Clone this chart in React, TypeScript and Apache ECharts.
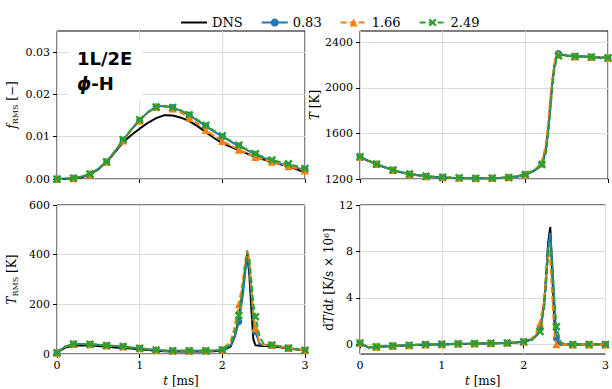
import React, { useEffect, useRef } from 'react';
import * as echarts from 'echarts';

// time grid [ms]
const tGrid = [0, 0.1, 0.2, 0.3, 0.4, 0.5, 0.6, 0.7, 0.8, 0.9, 1.0, 1.1, 1.2, 1.3, 1.4, 1.5, 1.6, 1.7, 1.8, 1.9, 2.0, 2.1, 2.15, 2.2, 2.25, 2.275, 2.3, 2.325, 2.35, 2.375, 2.4, 2.45, 2.5, 2.6, 2.7, 2.8, 2.9, 3.0];

// f_RMS [-]
const fRmsDNS = [0, 0, 0.0001, 0.0004, 0.0011, 0.0023, 0.004, 0.0063, 0.0087, 0.0104, 0.0119, 0.0133, 0.0144, 0.0151, 0.015, 0.0145, 0.0137, 0.0125, 0.0111, 0.0097, 0.0085, 0.0076, 0.0072, 0.0068, 0.0064, 0.0062, 0.006, 0.0058, 0.0056, 0.0054, 0.0052, 0.0049, 0.0046, 0.004, 0.0035, 0.003, 0.0023, 0.0015];
const fRms083 = [0, 0.0001, 0.0002, 0.0006, 0.0012, 0.0024, 0.0041, 0.0065, 0.0092, 0.0117, 0.0139, 0.0158, 0.0171, 0.0173, 0.0169, 0.0161, 0.0151, 0.0138, 0.0125, 0.0112, 0.01, 0.0089, 0.0083, 0.0078, 0.0073, 0.0071, 0.0068, 0.0066, 0.0063, 0.0061, 0.0058, 0.0054, 0.005, 0.0042, 0.0036, 0.0031, 0.0026, 0.0022];
const fRms166 = [0, 0.0001, 0.0002, 0.0006, 0.0012, 0.0024, 0.0041, 0.0065, 0.0091, 0.0116, 0.0138, 0.0157, 0.017, 0.0172, 0.0167, 0.0157, 0.0145, 0.0131, 0.0116, 0.0102, 0.009, 0.0079, 0.0074, 0.0069, 0.0065, 0.0063, 0.006, 0.0058, 0.0056, 0.0054, 0.0052, 0.0049, 0.0046, 0.0041, 0.0035, 0.003, 0.0025, 0.002];
const fRms249 = [0, 0.0001, 0.0002, 0.0006, 0.0012, 0.0024, 0.0041, 0.0066, 0.0093, 0.0118, 0.014, 0.0158, 0.017, 0.0172, 0.0169, 0.0162, 0.0152, 0.014, 0.0127, 0.0114, 0.0102, 0.009, 0.0085, 0.008, 0.0075, 0.0072, 0.007, 0.0067, 0.0065, 0.0062, 0.006, 0.0056, 0.0052, 0.0045, 0.004, 0.0036, 0.003, 0.0025];

// T [K]
const tempDNS = [1395, 1360, 1330, 1302, 1278, 1258, 1243, 1232, 1224, 1218, 1214, 1211, 1209, 1207, 1206, 1206, 1207, 1209, 1213, 1222, 1238, 1270, 1295, 1330, 1460, 1620, 1830, 2030, 2180, 2270, 2300, 2292, 2285, 2278, 2275, 2272, 2268, 2265];
const temp083 = [1395, 1361, 1331, 1303, 1279, 1259, 1244, 1232, 1224, 1218, 1214, 1211, 1209, 1207, 1206, 1206, 1207, 1209, 1213, 1222, 1239, 1272, 1298, 1333, 1470, 1630, 1840, 2040, 2190, 2275, 2302, 2292, 2285, 2278, 2275, 2272, 2268, 2265];
const temp166 = [1395, 1361, 1331, 1303, 1279, 1259, 1244, 1233, 1225, 1219, 1215, 1212, 1210, 1208, 1207, 1207, 1208, 1210, 1215, 1224, 1242, 1278, 1308, 1345, 1510, 1690, 1890, 2075, 2205, 2275, 2292, 2288, 2283, 2277, 2274, 2271, 2267, 2264];
const temp249 = [1395, 1361, 1331, 1303, 1279, 1259, 1244, 1233, 1225, 1219, 1215, 1212, 1210, 1208, 1207, 1207, 1208, 1210, 1214, 1223, 1240, 1272, 1296, 1328, 1430, 1580, 1780, 1990, 2150, 2250, 2282, 2285, 2282, 2277, 2274, 2271, 2267, 2264];

// T_RMS [K]
const tRmsDNS = [5, 26, 33, 35, 34, 32, 29, 26, 24, 22, 19, 16, 13, 11, 10, 10, 10, 10, 10, 11, 14, 30, 70, 140, 265, 340, 400, 330, 185, 60, 35, 33, 32, 31, 27, 22, 18, 14];
const tRms083 = [5, 30, 40, 40, 39, 37, 34, 32, 30, 26, 23, 19, 16, 14, 13, 13, 13, 13, 13, 14, 17, 35, 70, 130, 240, 320, 395, 360, 250, 140, 90, 40, 35, 36, 30, 24, 19, 15];
const tRms166 = [5, 30, 40, 40, 39, 37, 34, 32, 30, 26, 23, 19, 16, 14, 13, 13, 13, 13, 13, 14, 17, 50, 110, 200, 300, 370, 418, 380, 270, 160, 105, 45, 37, 36, 30, 24, 19, 15];
const tRms249 = [5, 30, 40, 40, 39, 37, 34, 32, 30, 26, 23, 19, 16, 14, 13, 13, 13, 13, 13, 14, 17, 40, 85, 155, 270, 350, 410, 390, 300, 200, 150, 70, 40, 36, 30, 24, 19, 15];

// dT/dt [K/s x 10^6]
const dTdtDNS = [0.1, -0.28, -0.25, -0.2, -0.16, -0.13, -0.1, -0.08, -0.06, -0.04, -0.02, 0, 0.01, 0.02, 0.04, 0.05, 0.06, 0.08, 0.1, 0.14, 0.2, 0.4, 0.7, 1.2, 3.5, 6.0, 8.8, 10.1, 6.0, 2.0, 0.3, -0.05, -0.05, -0.04, -0.03, -0.02, -0.02, -0.02];
const dTdt083 = [0.1, -0.27, -0.23, -0.19, -0.15, -0.12, -0.09, -0.06, -0.03, -0.01, 0, 0.02, 0.03, 0.04, 0.06, 0.07, 0.08, 0.09, 0.1, 0.14, 0.2, 0.4, 0.7, 1.3, 3.4, 5.8, 8.5, 9.6, 7.0, 3.5, 0.5, -0.05, -0.05, -0.04, -0.03, -0.02, -0.02, -0.02];
const dTdt166 = [0.1, -0.27, -0.23, -0.19, -0.15, -0.12, -0.09, -0.06, -0.03, -0.01, 0, 0.02, 0.03, 0.04, 0.06, 0.07, 0.08, 0.09, 0.11, 0.16, 0.22, 0.5, 0.9, 1.8, 3.8, 6.0, 7.9, 7.3, 4.0, 1.0, 0.0, -0.1, -0.06, -0.04, -0.03, -0.02, -0.02, -0.02];
const dTdt249 = [0.1, -0.27, -0.23, -0.19, -0.15, -0.12, -0.09, -0.06, -0.03, -0.01, 0, 0.02, 0.03, 0.04, 0.06, 0.07, 0.08, 0.09, 0.1, 0.14, 0.2, 0.4, 0.65, 1.1, 3.0, 5.2, 7.8, 8.6, 6.8, 3.8, 1.5, 0.2, 0.0, -0.03, -0.03, -0.02, -0.02, -0.02];

// tick labels
const timeTicks = [0, 1, 2, 3];
const fRmsTicks = [0, 0.01, 0.02, 0.03];
const tempTicks = [1200, 1600, 2000, 2400];
const tRmsTicks = [0, 200, 400, 600];
const dTdtTicks = [0, 4, 8, 12];

const legendNames = ['DNS', '0.83', '1.66', '2.49'];

const SERIF = 'DejaVu Serif';
const SANS = 'DejaVu Sans';
const XPATH = 'path://M2,0 L5,3 L8,0 L10,2 L7,5 L10,8 L8,10 L5,7 L2,10 L0,8 L3,5 L0,2 Z';

const STYLES = [
  { color: '#000000', symbol: 'none', size: 0, dash: 'solid' as any, width: 2 },
  { color: '#1f77b4', symbol: 'circle', size: 7, dash: 'solid' as any, width: 2 },
  { color: '#ff7f0e', symbol: 'triangle', size: 8, dash: [6, 3] as any, width: 2 },
  { color: '#2ca02c', symbol: XPATH, size: 8.5, dash: [6, 3] as any, width: 2 },
];

const GRIDS = [
  { left: 57, top: 31, width: 248, height: 148 },
  { left: 360, top: 31, width: 248, height: 148 },
  { left: 57, top: 205, width: 248, height: 149 },
  { left: 360, top: 205, width: 248, height: 149 },
];

const nameRich = {
  i: { fontFamily: SERIF, fontSize: 12, fontStyle: 'italic', color: '#000' },
  s: { fontFamily: SERIF, fontSize: 8, color: '#000', verticalAlign: 'bottom', lineHeight: 14 },
  p: { fontFamily: SERIF, fontSize: 8, color: '#000', verticalAlign: 'top', lineHeight: 14 },
};

const PANELS = [
  { data: [fRmsDNS, fRms083, fRms166, fRms249], min: 0, max: 0.035, ticks: fRmsTicks, digits: 2, name: '{i|f}{s|RMS} [−]', gap: 38, xLabels: false },
  { data: [tempDNS, temp083, temp166, temp249], min: 1200, max: 2500, ticks: tempTicks, digits: 0, name: '{i|T} [K]', gap: 39, xLabels: false },
  { data: [tRmsDNS, tRms083, tRms166, tRms249], min: 0, max: 600, ticks: tRmsTicks, digits: 0, name: '{i|T}{s|RMS} [K]', gap: 38, xLabels: true },
  { data: [dTdtDNS, dTdt083, dTdt166, dTdt249], min: -0.85, max: 12, ticks: dTdtTicks, digits: 0, name: 'd{i|T}/d{i|t} [K/s × 10{p|6}]', gap: 24, xLabels: true },
];

function isMarkerTime(t: number) {
  return Math.abs(t * 5 - Math.round(t * 5)) < 1e-6;
}

export default function App() {
  const ref = useRef<HTMLDivElement>(null);
  useEffect(() => {
    document.body.style.margin = '0';
    if (!ref.current) return;
    const chart = echarts.init(ref.current, undefined, { renderer: 'svg' });

    const xAxis: any[] = [];
    const yAxis: any[] = [];
    const series: any[] = [];

    PANELS.forEach((p, gi) => {
      xAxis.push({
        type: 'value', gridIndex: gi, min: timeTicks[0], max: timeTicks[timeTicks.length - 1], interval: 1,
        axisLine: { show: false },
        axisTick: { show: true, length: 4, lineStyle: { color: '#000', width: 1 } },
        axisLabel: { show: p.xLabels, margin: 6, fontFamily: SERIF, fontSize: 11, color: '#000', formatter: (v: number) => String(v) },
        splitLine: { show: true, lineStyle: { color: '#dcdcdc', width: 1 } },
        name: p.xLabels ? '{i|t} [ms]' : '',
        nameLocation: 'middle', nameGap: 21,
        nameTextStyle: { fontFamily: SERIF, fontSize: 12, color: '#000', rich: nameRich },
      });
      yAxis.push({
        type: 'value', gridIndex: gi, min: p.min, max: p.max,
        axisLine: { show: false },
        axisTick: { show: true, length: 4, customValues: p.ticks, lineStyle: { color: '#000', width: 1 } },
        axisLabel: { customValues: p.ticks, margin: 7, fontFamily: SERIF, fontSize: 11, color: '#000', formatter: (v: number) => v.toFixed(p.digits) },
        splitLine: { show: true, lineStyle: { color: '#dcdcdc', width: 1 } },
        name: p.name, nameLocation: 'middle', nameGap: p.gap,
        nameTextStyle: { fontFamily: SERIF, fontSize: 12, color: '#000', rich: nameRich },
      });
      p.data.forEach((vals, si) => {
        const st = STYLES[si];
        series.push({
          type: 'line', name: legendNames[si], xAxisIndex: gi, yAxisIndex: gi,
          z: 2 + si,
          symbol: st.symbol, symbolSize: st.size, showSymbol: si > 0, showAllSymbol: true,
          lineStyle: { color: st.color, width: st.width, type: st.dash },
          itemStyle: { color: st.color, borderColor: st.color, borderWidth: 0 },
          data: tGrid.map((t, i) => (si > 0 && isMarkerTime(t)) ? [t, vals[i]] : { value: [t, vals[i]], symbol: 'none' }),
          emphasis: { disabled: true },
        });
      });
    });

    chart.setOption({
      animation: false,
      backgroundColor: '#ffffff',
      grid: GRIDS.map(g => ({ ...g, show: true, borderColor: '#000', borderWidth: 1, backgroundColor: 'transparent' })),
      legend: {
        data: legendNames.map((n, i) => (i === 0 ? { name: n, itemStyle: { opacity: 0 } } : { name: n })),
        left: 175, top: 11, itemWidth: 26, itemHeight: 10, itemGap: 18,
        textStyle: { fontFamily: SERIF, fontSize: 13, color: '#000' },
      },
      xAxis, yAxis, series,
      graphic: [
        { type: 'rect', z: 100, shape: { x: 68, y: 40, width: 74, height: 60 }, style: { fill: '#ffffff' } },
        { type: 'text', z: 101, x: 77, y: 58, style: { text: '1L/2E', fontFamily: SANS, fontSize: 18, fontWeight: 'bold', fill: '#000', verticalAlign: 'middle' } },
        { type: 'text', z: 101, x: 77, y: 83, style: { text: '{p|ϕ}-H', fontFamily: SANS, fontSize: 18, fontWeight: 'bold', fill: '#000', verticalAlign: 'middle', rich: { p: { fontFamily: SANS, fontSize: 18, fontWeight: 'bold', fontStyle: 'italic', fill: '#000' } } } },
      ],
    });
    return () => chart.dispose();
  }, []);
  return <div ref={ref} style={{ width: 612, height: 389 }} />;
}
